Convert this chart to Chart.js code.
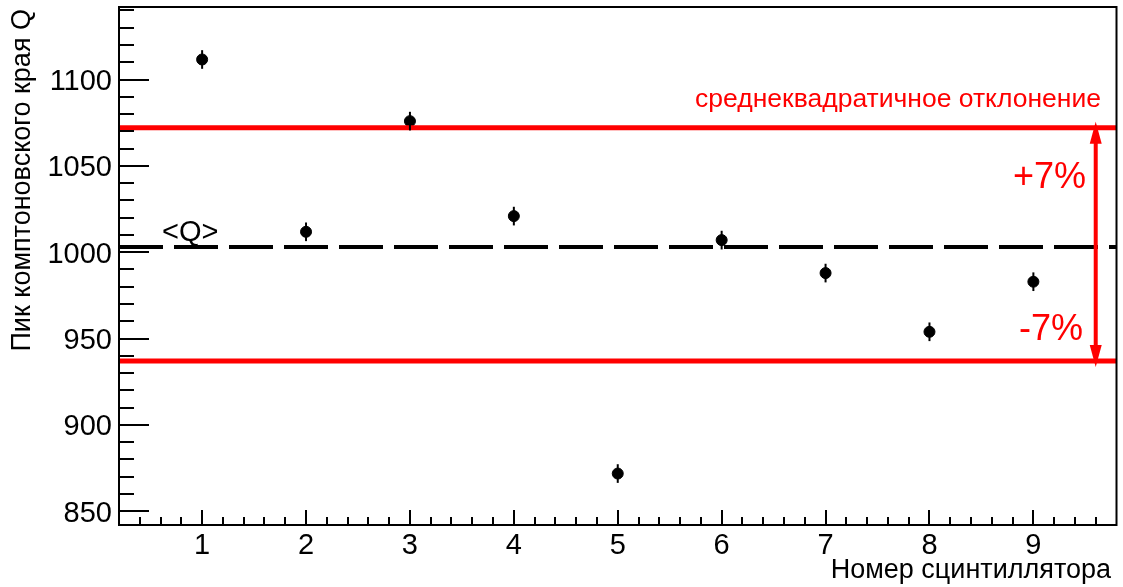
<!DOCTYPE html>
<html>
<head>
<meta charset="utf-8">
<script src="https://cdn.jsdelivr.net/npm/chart.js@4/dist/chart.umd.min.js"></script>
<style>
  html, body { margin: 0; padding: 0; background: #fff; }
  #wrap { width: 1123px; height: 587px; }
</style>
</head>
<body>
<div id="wrap"><canvas id="c" width="1123" height="587"></canvas></div>
<script>
// номер сцинтиллятора и пик комптоновского края
const scintillators = [1, 2, 3, 4, 5, 6, 7, 8, 9];
const peakQ = [1111.6, 1011.8, 1075.9, 1020.9, 871.8, 1007.0, 987.9, 953.9, 982.9];
const peakErr = [5.4, 5.4, 5.4, 5.4, 5.4, 5.4, 5.4, 5.4, 5.4];
const meanQ = 1003;
const rmsUpper = 1072;
const rmsLower = 937;
const xTickLabels = [1, 2, 3, 4, 5, 6, 7, 8, 9];
const yTickLabels = [850, 900, 950, 1000, 1050, 1100];

const X_MIN = 0.2, X_MAX = 9.8, Y_MIN = 842, Y_MAX = 1142;
const FONT = '"Liberation Sans", Arial, sans-serif';

const rootFrame = {
    id: 'rootFrame',
    afterDatasetsDraw: function(chart) {
        const ctx = chart.ctx;
        const a = chart.chartArea;
        const xs = chart.scales.x, ys = chart.scales.y;
        ctx.save();

        // error bars
        ctx.strokeStyle = '#000';
        ctx.lineWidth = 2;
        scintillators.forEach(function(n, i) {
            const px = xs.getPixelForValue(n);
            ctx.beginPath();
            ctx.moveTo(px, ys.getPixelForValue(peakQ[i] - peakErr[i]));
            ctx.lineTo(px, ys.getPixelForValue(peakQ[i] + peakErr[i]));
            ctx.stroke();
        });

        // frame
        ctx.lineWidth = 2;
        ctx.strokeRect(a.left, a.top, a.right - a.left, a.bottom - a.top);

        // y ticks (inside)
        ctx.beginPath();
        for (let v = Math.ceil(Y_MIN / 10) * 10; v <= Y_MAX; v += 10) {
            const py = Math.round(ys.getPixelForValue(v));
            const len = (v % 50 === 0) ? 30 : 15;
            ctx.moveTo(a.left, py);
            ctx.lineTo(a.left + len, py);
        }
        // x ticks (inside)
        for (let k = Math.ceil(X_MIN * 5 + 1e-6); k / 5 < X_MAX; k++) {
            const px = Math.round(xs.getPixelForValue(k / 5));
            const len = (k % 5 === 0) ? 15 : 8;
            ctx.moveTo(px, a.bottom);
            ctx.lineTo(px, a.bottom - len);
        }
        ctx.stroke();

        // tick labels
        ctx.fillStyle = '#000';
        ctx.font = '29px ' + FONT;
        ctx.textAlign = 'right';
        ctx.textBaseline = 'alphabetic';
        yTickLabels.forEach(function(v) {
            ctx.fillText(String(v), a.left - 7, ys.getPixelForValue(v) + 10.5);
        });
        ctx.textAlign = 'center';
        xTickLabels.forEach(function(v) {
            ctx.fillText(String(v), xs.getPixelForValue(v), 554);
        });

        // axis titles
        ctx.font = '27px ' + FONT;
        ctx.textAlign = 'right';
        ctx.fillText('Номер сцинтиллятора', 1111, 578);
        ctx.save();
        ctx.translate(30, a.top + 2);
        ctx.rotate(-Math.PI / 2);
        ctx.font = '27px ' + FONT;
        ctx.textAlign = 'right';
        ctx.fillText('Пик комптоновского края Q', 0, 0);
        ctx.restore();

        // <Q> label
        ctx.font = '29px ' + FONT;
        ctx.textAlign = 'left';
        ctx.fillText('<Q>', 162, ys.getPixelForValue(1006.5));

        // double arrow
        const ax = xs.getPixelForValue(9.6);
        const yTop = ys.getPixelForValue(rmsUpper);
        const yBot = ys.getPixelForValue(rmsLower);
        ctx.strokeStyle = '#ff0000';
        ctx.fillStyle = '#ff0000';
        ctx.lineWidth = 4;
        ctx.beginPath();
        ctx.moveTo(ax, yTop + 14);
        ctx.lineTo(ax, yBot - 14);
        ctx.stroke();
        ctx.beginPath();
        ctx.moveTo(ax, yTop - 6);
        ctx.lineTo(ax - 6, yTop + 16);
        ctx.lineTo(ax + 6, yTop + 16);
        ctx.closePath();
        ctx.fill();
        ctx.beginPath();
        ctx.moveTo(ax, yBot + 6);
        ctx.lineTo(ax - 6, yBot - 16);
        ctx.lineTo(ax + 6, yBot - 16);
        ctx.closePath();
        ctx.fill();

        // red labels
        ctx.font = '26.5px ' + FONT;
        ctx.textAlign = 'right';
        ctx.fillText('среднеквадратичное отклонение', 1101, 107);
        ctx.font = '36px ' + FONT;
        ctx.fillText('+7%', 1086, 188);
        ctx.fillText('-7%', 1083, 340);

        ctx.restore();
    }
};

function hLine(y) {
    return [{x: X_MIN, y: y}, {x: X_MAX, y: y}];
}

new Chart(document.getElementById('c').getContext('2d'), {
    type: 'scatter',
    data: {
        datasets: [
            {
                type: 'line',
                data: hLine(meanQ),
                borderColor: '#000',
                borderWidth: 4,
                borderDash: [44, 11],
                pointRadius: 0,
                fill: false
            },
            {
                type: 'line',
                data: hLine(rmsUpper),
                borderColor: '#ff0000',
                borderWidth: 5,
                pointRadius: 0,
                fill: false
            },
            {
                type: 'line',
                data: hLine(rmsLower),
                borderColor: '#ff0000',
                borderWidth: 5,
                pointRadius: 0,
                fill: false
            },
            {
                data: scintillators.map(function(n, i) { return {x: n, y: peakQ[i]}; }),
                backgroundColor: '#000',
                borderColor: '#000',
                pointRadius: 5.5,
                pointHoverRadius: 5.5
            }
        ]
    },
    options: {
        responsive: false,
        animation: false,
        events: [],
        layout: { padding: { left: 119, top: 7, right: 5, bottom: 62 } },
        plugins: { legend: { display: false }, tooltip: { enabled: false } },
        scales: {
            x: { type: 'linear', min: X_MIN, max: X_MAX, display: false },
            y: { type: 'linear', min: Y_MIN, max: Y_MAX, display: false }
        }
    },
    plugins: [rootFrame]
});
</script>
</body>
</html>
